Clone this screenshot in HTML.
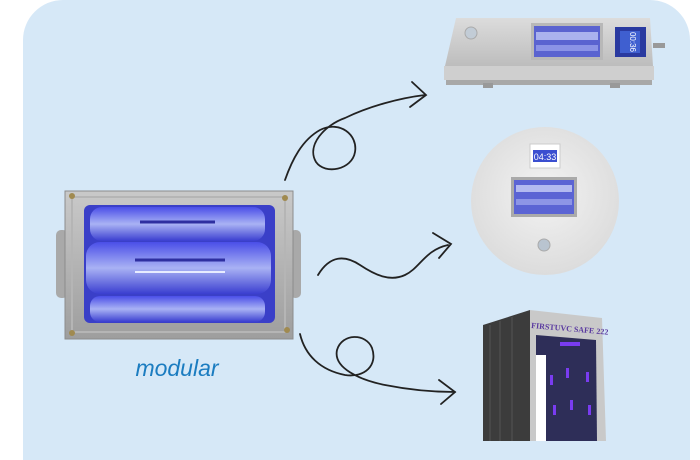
<!DOCTYPE html>
<html><head><meta charset="utf-8"><style>
html,body{margin:0;padding:0;background:#fff;}
body{width:700px;height:441px;overflow:hidden;position:relative;font-family:"Liberation Sans",sans-serif;}
.panel{position:absolute;left:23px;top:0;width:667px;height:460px;background:#d6e8f7;border-radius:40px 40px 0 0;}
</style></head><body>
<div class="panel"></div>
<svg width="700" height="441" style="position:absolute;left:0;top:0">
<defs>
<linearGradient id="tube" x1="0" y1="0" x2="0" y2="1">
<stop offset="0" stop-color="#4a4ee8"/><stop offset="0.5" stop-color="#a9b2f4"/><stop offset="1" stop-color="#3a3ed0"/></linearGradient>
<linearGradient id="metal" x1="0" y1="0" x2="0" y2="1">
<stop offset="0" stop-color="#c9c9c9"/><stop offset="1" stop-color="#9e9e9e"/></linearGradient>
<linearGradient id="steel" x1="0" y1="0" x2="0" y2="1">
<stop offset="0" stop-color="#dcdcdc"/><stop offset="1" stop-color="#bdbdbd"/></linearGradient>
<radialGradient id="disc" cx="0.5" cy="0.45" r="0.6">
<stop offset="0" stop-color="#f3f3f3"/><stop offset="1" stop-color="#dadada"/></radialGradient>
</defs>
<!-- modular device -->
<rect x="56" y="230" width="12" height="68" rx="5" fill="#a9a9a9"/>
<rect x="290" y="230" width="11" height="68" rx="5" fill="#a9a9a9"/>
<rect x="65" y="191" width="228" height="148" fill="url(#metal)" stroke="#8c8c8c"/>
<rect x="72" y="197" width="213" height="135" fill="none" stroke="#b5b5b5" stroke-width="2"/>
<rect x="84" y="205" width="191" height="118" rx="6" fill="#3a3fc8"/>
<rect x="90" y="207" width="175" height="34" rx="12" fill="url(#tube)"/>
<rect x="86" y="242" width="185" height="52" rx="14" fill="url(#tube)"/>
<rect x="90" y="296" width="175" height="26" rx="10" fill="url(#tube)"/>
<line x1="135" y1="260" x2="225" y2="260" stroke="#2e2fa0" stroke-width="3"/>
<line x1="135" y1="272" x2="225" y2="272" stroke="#e8ecff" stroke-width="2"/>
<line x1="140" y1="222" x2="215" y2="222" stroke="#2e2fa0" stroke-width="3"/>
<circle cx="72" cy="196" r="3" fill="#a08a50"/><circle cx="285" cy="198" r="3" fill="#a08a50"/>
<circle cx="72" cy="333" r="3" fill="#a08a50"/><circle cx="287" cy="330" r="3" fill="#a08a50"/>
<text x="177" y="376" text-anchor="middle" font-size="23" font-style="italic" fill="#1b7cc0" font-family="Liberation Sans,sans-serif">modular</text>
<!-- connectors -->
<g fill="none" stroke="#222" stroke-width="1.8" stroke-linecap="round">
<path d="M285,180 C292,160 302,140 320,130 C340,120 358,135 355,152 C352,170 325,175 316,162 C306,145 325,125 345,118 C370,106 400,98 425,95"/>
<path d="M412,82 L426,95 L410,107"/>
<path d="M318,275 C330,255 345,255 360,265 C375,275 390,282 405,275 C420,268 425,250 448,245"/>
<path d="M433,233 L451,244 L439,258"/>
<path d="M300,334 C305,355 320,370 345,375 C365,378 378,365 372,348 C366,333 342,333 337,350 C333,368 360,380 385,385 C410,390 430,392 455,392"/>
<path d="M439,380 L455,392 L441,404"/>
</g>
<!-- top device -->
<polygon points="456,18 650,18 653,66 445,66" fill="url(#steel)"/>
<rect x="444" y="66" width="210" height="14" fill="#cfcfcf"/>
<rect x="446" y="80" width="206" height="5" fill="#a8a8a8"/>
<rect x="483" y="83" width="10" height="5" fill="#999"/><rect x="610" y="83" width="10" height="5" fill="#999"/>
<circle cx="471" cy="33" r="6" fill="#c2ccd6" stroke="#aaa"/>
<rect x="531" y="23" width="72" height="37" fill="#b8b8b8"/>
<rect x="534" y="26" width="66" height="31" fill="#5a63d0"/>
<rect x="536" y="32" width="62" height="8" fill="#aab2ee"/>
<rect x="536" y="45" width="62" height="6" fill="#8b93e6"/>
<rect x="615" y="27" width="31" height="30" fill="#2a3aa0"/>
<rect x="620" y="31" width="20" height="22" fill="#3f5fd0"/>
<text x="630" y="42" font-size="8" fill="#fff" text-anchor="middle" transform="rotate(90 630 42)">00:36</text>
<rect x="653" y="43" width="12" height="5" fill="#999"/>
<!-- round device -->
<circle cx="545" cy="201" r="74" fill="url(#disc)"/>
<rect x="530" y="144" width="30" height="24" fill="#fff" stroke="#ccc"/>
<rect x="533" y="150" width="24" height="12" fill="#3b4fd0"/>
<text x="545" y="160" font-size="9" fill="#fff" text-anchor="middle">04:33</text>
<rect x="511" y="177" width="66" height="40" fill="#aaa"/>
<rect x="514" y="180" width="60" height="34" fill="#5b64d4"/>
<rect x="516" y="185" width="56" height="7" fill="#b3baf0"/>
<rect x="516" y="199" width="56" height="6" fill="#8d95e6"/>
<circle cx="544" cy="245" r="6" fill="#b9c4d0" stroke="#aaa"/>
<!-- gate -->
<polygon points="483,325 530,310 530,441 483,441" fill="#3c3c3c"/>
<line x1="490" y1="325" x2="490" y2="441" stroke="#555"/><line x1="500" y1="321" x2="500" y2="441" stroke="#555"/><line x1="512" y1="317" x2="512" y2="441" stroke="#555"/>
<polygon points="530,310 602,318 606,441 530,441" fill="#c9c9c9"/>
<polygon points="536,335 596,340 597,441 536,441" fill="#2e2e58"/>
<rect x="536" y="355" width="10" height="86" fill="#fff"/>
<g fill="#7a3cf0"><rect x="550" y="375" width="3" height="10"/><rect x="566" y="368" width="3" height="10"/><rect x="586" y="372" width="3" height="10"/><rect x="553" y="405" width="3" height="10"/><rect x="570" y="400" width="3" height="10"/><rect x="588" y="405" width="3" height="10"/><rect x="560" y="342" width="20" height="4"/></g>
<text x="531" y="328" font-size="8" font-weight="bold" fill="#5a3aa0" font-family="Liberation Serif,serif" transform="rotate(5 531 328)">FIRSTUVC  SAFE 222</text>
</svg>
</body></html>
